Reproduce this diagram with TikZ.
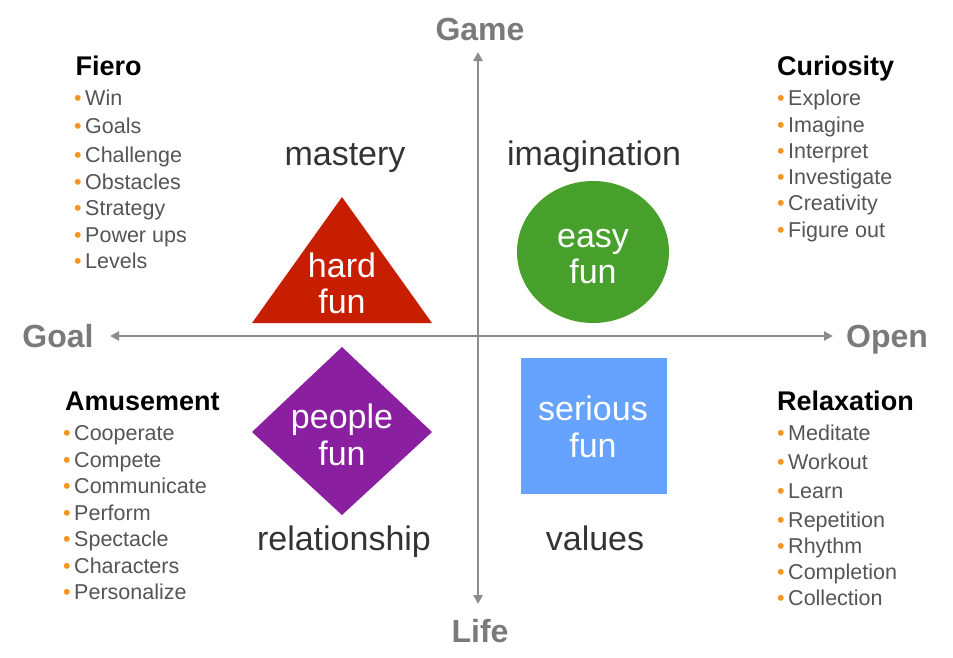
\documentclass[tikz,border=0pt]{standalone}
\usepackage{fontspec}
\setmainfont{Liberation Sans}
\usetikzlibrary{arrows.meta}
\definecolor{axisgray}{HTML}{8C8C8C}
\definecolor{labelgray}{HTML}{7A7A7A}
\definecolor{wordgray}{HTML}{333333}
\definecolor{itemgray}{HTML}{555555}
\definecolor{bulletorange}{HTML}{F7941D}
\definecolor{hardred}{HTML}{C81E00}
\definecolor{easygreen}{HTML}{47A02B}
\definecolor{peoplepurple}{HTML}{8A20A0}
\definecolor{seriousblue}{HTML}{66A3FF}
\newcommand\blt{{\color{bulletorange}•}\kern3.5pt}
\begin{document}
\begin{tikzpicture}[x=1pt,y=-1pt,
  axislbl/.style={font=\fontsize{32}{34}\selectfont\bfseries, text=labelgray, inner sep=0, anchor=base},
  word/.style={font=\fontsize{34}{36}\selectfont, text=wordgray, inner sep=0, anchor=base},
  inword/.style={font=\fontsize{34}{36}\selectfont, text=white, inner sep=0, anchor=base},
  heading/.style={font=\fontsize{27}{29}\selectfont\bfseries, text=black, inner sep=0, anchor=base west},
  listitem/.style={font=\fontsize{21.5}{23}\selectfont, text=itemgray, inner sep=0, anchor=base west},
  axisline/.style={draw=axisgray, line width=2.5pt, {Triangle[length=9pt,width=9pt]}-{Triangle[length=9pt,width=9pt]}}
]
\useasboundingbox (0,0) rectangle (953,657);
\fill[white] (0,0) rectangle (953,657);

% axes
\coordinate (axL) at (110,336);
\coordinate (axR) at (833,336);
\coordinate (axT) at (478,52);
\coordinate (axB) at (478,604);
\draw[axisline] (axL) -- (axR);
\draw[axisline] (axT) -- (axB);

\node[axislbl] (game) at (480,40) {Game};
\node[axislbl] (life) at (480,642) {Life};
\node[axislbl] (goal) at (58,347) {Goal};
\node[axislbl] (open) at (887,347) {Open};

% shapes
\fill[hardred] (342,197) -- (432,323) -- (252,323) -- cycle;
\fill[easygreen] (593,252) ellipse [x radius=76, y radius=71];
\fill[peoplepurple] (342,347) -- (432,432) -- (342,515) -- (252,432) -- cycle;
\fill[seriousblue] (521,358) rectangle (667,494);

\node[inword] (hard1) at (342,277) {hard};
\node[inword] (hard2) at (342,313) {fun};
\node[inword] (easy1) at (593,247) {easy};
\node[inword] (easy2) at (593,283) {fun};
\node[inword] (people1) at (342,428) {people};
\node[inword] (people2) at (342,465) {fun};
\node[inword] (serious1) at (593,420) {serious};
\node[inword] (serious2) at (593,457) {fun};

\node[word] (mastery) at (345,165) {mastery};
\node[word] (imagination) at (594,165) {imagination};
\node[word] (relationship) at (344,550) {relationship};
\node[word] (values) at (595,550) {values};

% Fiero
\node[heading] (fiero) at (75.5,75) {Fiero};
\node[listitem] (f1) at (74,105) {\blt Win};
\node[listitem] (f2) at (74,133) {\blt Goals};
\node[listitem] (f3) at (74,162) {\blt Challenge};
\node[listitem] (f4) at (74,189) {\blt Obstacles};
\node[listitem] (f5) at (74,215) {\blt Strategy};
\node[listitem] (f6) at (74,242) {\blt Power ups};
\node[listitem] (f7) at (74,268) {\blt Levels};

% Curiosity
\node[heading] (curiosity) at (777,75) {Curiosity};
\node[listitem] (c1) at (777,105) {\blt Explore};
\node[listitem] (c2) at (777,132) {\blt Imagine};
\node[listitem] (c3) at (777,158) {\blt Interpret};
\node[listitem] (c4) at (777,184) {\blt Investigate};
\node[listitem] (c5) at (777,210) {\blt Creativity};
\node[listitem] (c6) at (777,237) {\blt Figure out};

% Amusement
\node[heading] (amusement) at (65,410) {Amusement};
\node[listitem] (a1) at (63,440) {\blt Cooperate};
\node[listitem] (a2) at (63,467) {\blt Compete};
\node[listitem] (a3) at (63,493) {\blt Communicate};
\node[listitem] (a4) at (63,520) {\blt Perform};
\node[listitem] (a5) at (63,546) {\blt Spectacle};
\node[listitem] (a6) at (63,573) {\blt Characters};
\node[listitem] (a7) at (63,599) {\blt Personalize};

% Relaxation
\node[heading] (relaxation) at (777,410) {Relaxation};
\node[listitem] (r1) at (777,440) {\blt Meditate};
\node[listitem] (r2) at (777,469) {\blt Workout};
\node[listitem] (r3) at (777,498) {\blt Learn};
\node[listitem] (r4) at (777,527) {\blt Repetition};
\node[listitem] (r5) at (777,553) {\blt Rhythm};
\node[listitem] (r6) at (777,579) {\blt Completion};
\node[listitem] (r7) at (777,605) {\blt Collection};
\end{tikzpicture}
\end{document}
